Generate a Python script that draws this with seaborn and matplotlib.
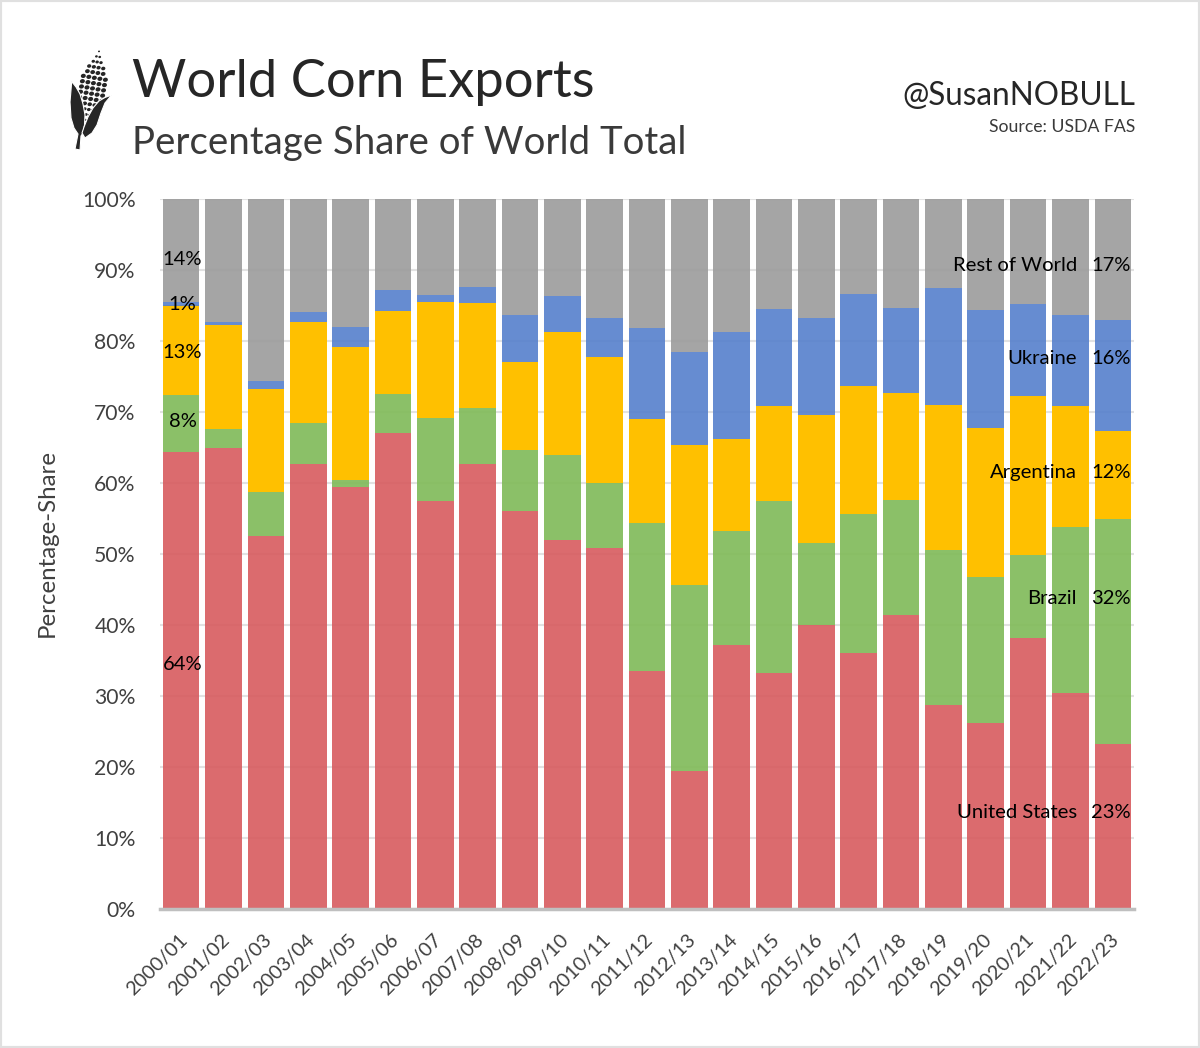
import numpy as np
import matplotlib
matplotlib.use("Agg")
import matplotlib.pyplot as plt
from matplotlib.patches import PathPatch, Rectangle, Ellipse
from matplotlib.path import Path
from matplotlib.transforms import ScaledTranslation
import seaborn as sns

years = ["2000/01","2001/02","2002/03","2003/04","2004/05","2005/06","2006/07","2007/08","2008/09","2009/10","2010/11","2011/12",
         "2012/13","2013/14","2014/15","2015/16","2016/17","2017/18","2018/19","2019/20","2020/21","2021/22","2022/23"]
us = [64.3,64.9,52.6,62.7,59.5,67.0,57.5,62.7,56.1,52.0,50.8,33.5,19.4,37.2,33.3,40.0,36.0,41.4,28.7,26.2,38.2,30.4,23.3]
brazil = [8.1,2.7,6.1,5.7,0.9,5.5,11.6,7.8,8.6,12.0,9.2,20.8,26.2,16.0,24.1,11.6,19.6,16.2,21.8,20.5,11.6,23.4,31.6]
argentina = [12.6,14.7,14.6,14.3,18.8,11.7,16.4,14.9,12.3,17.3,17.8,14.7,19.7,13.0,13.4,18.0,18.0,15.1,20.5,21.0,22.4,17.0,12.4]
ukraine = [0.5,0.4,1.0,1.4,2.8,3.0,1.0,2.2,6.6,5.0,5.4,12.9,13.2,15.1,13.7,13.6,13.0,11.9,16.4,16.7,13.0,12.8,15.7]
rest = [14.5,17.3,25.7,15.9,18.0,12.8,13.5,12.4,16.4,13.7,16.8,18.1,21.5,18.7,15.5,16.8,13.4,15.4,12.6,15.6,14.8,16.4,17.0]
series = [("United States",us,"#D75B5E",0.9),("Brazil",brazil,"#7FBA57",0.9),("Argentina",argentina,"#FFC000",1.0),
          ("Ukraine",ukraine,"#5580CC",0.9),("Rest of World",rest,"#9B9B9B",0.9)]
first_labels = ["64%","8%","13%","1%","14%"]
last_labels = ["23%","32%","12%","16%","17%"]
first_y = [34.5,68.65,78.45,85.1,91.5]
last_y = [13.65,43.7,61.5,77.6,90.6]

sns.set_theme(style="white")
plt.rcParams['font.family'] = ['Lato','DejaVu Sans']
W,H = 1200,1048
fig = plt.figure(figsize=(W/100,H/100),dpi=100,facecolor="white")
ax = fig.add_axes([160/W,1-909/H,974/W,710/H])
bottom = np.zeros(len(years))
for name,vals,col,al in series:
    sns.barplot(x=years,y=vals,bottom=bottom,color=col,saturation=1,width=0.865,ax=ax,zorder=3,linewidth=0,alpha=al)
    bottom += np.array(vals)
ax.set_xlim(-0.5,22.5); ax.set_ylim(0,100)
ax.set_yticks(range(0,101,10)); ax.set_yticklabels([f"{v}%" for v in range(0,101,10)],fontsize=15.2,color="#404040")
ax.tick_params(axis="y",length=0,pad=17.5)
ax.tick_params(axis="x",length=0,pad=16)
ax.set_xticks(range(len(years)))
ax.set_xticklabels(years,rotation=45,ha="right",rotation_mode="anchor",fontsize=14.3,color="#404040")
off = ScaledTranslation(-3/100,0,fig.dpi_scale_trans)
for l in ax.get_xticklabels():
    l.set_transform(l.get_transform()+off)
ax.yaxis.grid(True,color="#e2e2e2",lw=1.5,zorder=0); ax.set_axisbelow(True)
ax.xaxis.grid(False)
for s in ["top","right","left"]: ax.spines[s].set_visible(False)
ax.spines["bottom"].set_color("#bfbfbf"); ax.spines["bottom"].set_linewidth(2.5); ax.spines["bottom"].set_zorder(4)
ax.set_ylabel("")

for y,lab in zip(first_y,first_labels):
    ax.text(0.03,y,lab,ha="center",va="center",fontsize=14.5,color="black",zorder=5)
for y,lab,(name,vals,col,al) in zip(last_y,last_labels,series):
    ax.text(22.43,y,lab,ha="right",va="center",fontsize=14.5,color="black",zorder=5)
    ax.text(21.15,y,name,ha="right",va="center",fontsize=14.6,color="black",zorder=5)

def t(x,y,s,**k):
    fig.text(x/W,1-y/H,s,**k)
t(132,83,"World Corn Exports",fontsize=37.8,color="#262626",va="center",ha="left")
t(132,143,"Percentage Share of World Total",fontsize=27.6,color="#3a3a3a",va="center",ha="left")
t(1135,96,"@SusanNOBULL",fontsize=22.7,color="#262626",va="center",ha="right")
t(1135,127,"Source: USDA FAS",fontsize=12.7,color="#3a3a3a",va="center",ha="right")
t(47,543,"Percentage-Share",fontsize=17.3,color="#404040",va="center",ha="center",rotation=90)

fig.add_artist(Rectangle((0,0),1,1,transform=fig.transFigure,fill=False,ec="#e0e0e0",lw=3))

# corn icon (pixel coordinates)
ic = fig.add_axes([0,0,1,1],facecolor="none"); ic.set_xlim(0,W); ic.set_ylim(H,0); ic.axis("off")
dark="#262626"
tip=np.array([99.0,52.0]); base=np.array([86.0,126.0])
axis_dir=(base-tip)/np.linalg.norm(base-tip); perp=np.array([-axis_dir[1],axis_dir[0]])
cols=[1,2,3,4,4,5,5,5,5,5,5,5,4,4,3]
scale=[.4,.55,.7,.85,.95,1,1,1,1,1,.9,.75,.65,.5,.4]
for r,(n,s) in enumerate(zip(cols,scale)):
    c=tip+axis_dir*(r/(len(cols)-1))*np.linalg.norm(base-tip)
    for k in range(n):
        xy=c+perp*((k-(n-1)/2)*5.6*max(s,.6))+np.array([0,-0.6])
        ic.add_patch(Ellipse(xy,5.0*s,4.2*s,angle=-12,fc=dark,ec="none"))
left=[(71.7,81.5),(76,87),(80,94),(83,104),(85,115),(84.5,125),(83,133),(81,136),(80,150),(75,149),(78,134),(74,128),(71,118),(70,102),(71.7,81.5)]
right=[(111.7,95),(105,97.5),(99,101),(93,108),(88,117),(84,127),(82,133),(85,138),(92,133),(97,125),(101,113),(105,103),(111.7,95)]
for pts in (left,right):
    codes=[Path.MOVETO]+[Path.LINETO]*(len(pts)-2)+[Path.CLOSEPOLY]
    ic.add_patch(PathPatch(Path(pts,codes),fc=dark,ec="white",lw=0.8))
fig.savefig("out.png",dpi=100)
